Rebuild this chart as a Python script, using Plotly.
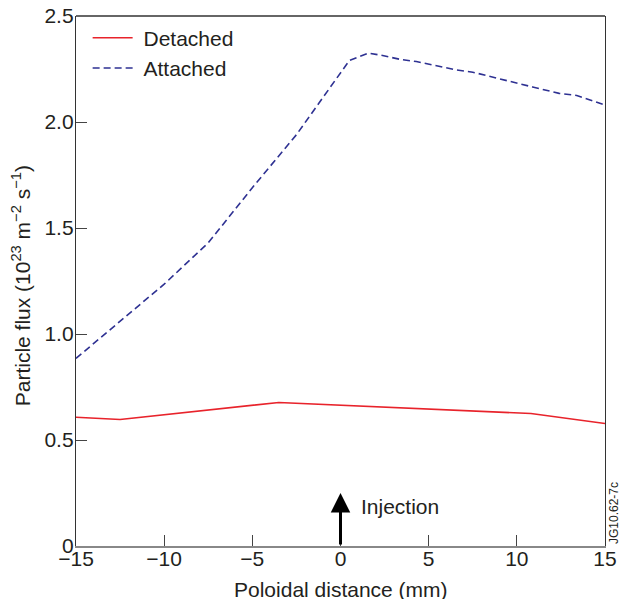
import plotly.graph_objects as go

# Data
detached_x = [-15, -12.5, -3.5, 10.8, 15]
detached_y = [0.607, 0.597, 0.677, 0.625, 0.578]

attached_x = [-15, -12.5, -10, -7.5, -5, -2.5, 0.5, 1.6, 2.3, 3.4, 4.3, 6.6, 7.5, 10.9, 12.4, 13.4, 15]
attached_y = [0.885, 1.06, 1.235, 1.43, 1.69, 1.94, 2.29, 2.325, 2.315, 2.295, 2.285, 2.245,
              2.235, 2.165, 2.135, 2.125, 2.08]

x_ticks = [-15, -10, -5, 0, 5, 10, 15]
y_ticks = [0, 0.5, 1.0, 1.5, 2.0, 2.5]
y_ticklabels = ["0", "0.5", "1.0", "1.5", "2.0", "2.5"]

injection_x = 0
injection_top = 0.25

FONT = "Liberation Sans, Arial, Helvetica, sans-serif"
TXT = "#231f20"
FS = 21

fig = go.Figure()
fig.add_trace(go.Scatter(x=detached_x, y=detached_y, mode="lines", name="\u00a0Detached",
                         line=dict(color="#e8232b", width=1.6)))
fig.add_trace(go.Scatter(x=attached_x, y=attached_y, mode="lines", name="\u00a0Attached",
                         line=dict(color="#2e3192", width=1.6, dash="7px,4px")))

fig.add_annotation(x=injection_x, y=injection_top, ax=injection_x, ay=0, xref="x", yref="y",
                   axref="x", ayref="y", showarrow=True, arrowhead=2, arrowsize=1.3,
                   arrowwidth=3, arrowcolor="black", text="")
fig.add_annotation(x=1.05, y=0.185, xref="x", yref="y", text="Injection", showarrow=False,
                   xanchor="left", yanchor="middle", font=dict(size=FS, color=TXT, family=FONT))
fig.add_annotation(x=1.0, y=0.0, xref="paper", yref="paper", xshift=9, text="JG10.62-7c",
                   showarrow=False, textangle=-90, xanchor="center", yanchor="bottom",
                   font=dict(size=12, color=TXT, family=FONT))

# axis titles as annotations for exact placement
fig.add_annotation(x=0.5, y=0, xref="paper", yref="paper", yshift=-43,
                   text="Poloidal distance (mm)", showarrow=False, xanchor="center",
                   yanchor="middle", font=dict(size=FS, color=TXT, family=FONT))
fig.add_annotation(x=0, y=0.49, xref="paper", yref="paper", xshift=-55,
                   text="Particle flux (10<sup>23</sup> m<sup>−2</sup> s<sup>−1</sup>)",
                   showarrow=False, textangle=-90, xanchor="center", yanchor="middle",
                   font=dict(size=FS, color=TXT, family=FONT))

# top border
fig.add_shape(type="line", xref="paper", yref="paper", x0=0, x1=1, y0=1, y1=1,
              line=dict(color="#333", width=1.3))

fig.update_xaxes(range=[-15, 15], tickvals=x_ticks, ticks="inside", ticklen=11, tickcolor="#444",
                 showgrid=False, zeroline=False, showline=True, linecolor="#888", linewidth=2,
                 automargin=False, ticklabeloverflow="allow", ticklabelstandoff=-7,
                 tickfont=dict(size=FS, color=TXT, family=FONT))
fig.update_yaxes(range=[0, 2.5], tickvals=y_ticks, ticktext=y_ticklabels, ticks="inside",
                 ticklen=11, tickcolor="#444", showgrid=False, zeroline=False, showline=True,
                 linecolor="#333", linewidth=1.3, mirror=True, automargin=False,
                 ticklabeloverflow="allow", ticklabelstandoff=-3,
                 tickfont=dict(size=FS, color=TXT, family=FONT))

fig.update_layout(
    width=621, height=599,
    margin=dict(l=76, r=16, t=16, b=53, autoexpand=False),
    paper_bgcolor="white", plot_bgcolor="white",
    showlegend=True,
    legend=dict(x=0.022, y=0.997, xanchor="left", yanchor="top", bgcolor="rgba(0,0,0,0)",
                font=dict(size=FS, color=TXT, family=FONT), tracegroupgap=0,
                itemwidth=40),
    font=dict(family=FONT),
)

fig.write_html("out.html", config={"displayModeBar": False},
               post_script="document.body.style.margin='0';document.body.style.overflow='hidden';")
